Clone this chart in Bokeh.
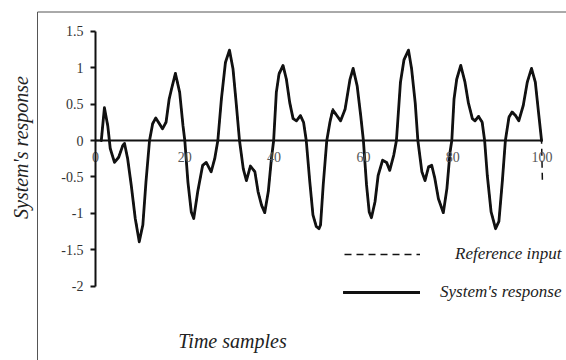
from bokeh.plotting import figure
from bokeh.models import Range1d, FixedTicker, Label, Legend, LegendItem
from bokeh.embed import file_html
from bokeh.resources import INLINE
import math

# ---------------- data ----------------
time_x = [1.3, 2.0, 2.75, 3.3, 4.25, 5.2, 6.1, 6.5, 7.2, 8.0, 8.9, 9.8, 10.6, 11.3,
          12.1, 12.8, 13.5, 14.3, 15.0, 15.8, 16.5, 17.0, 17.9, 18.85, 19.6, 20.0,
          20.7, 21.45, 22.0, 22.9, 24.0, 24.8, 25.9, 26.7, 27.4, 28.2, 29.1, 30.0,
          30.8, 31.5, 32.25, 33.1, 33.8, 34.7, 35.7, 36.4, 37.2, 37.9, 38.7, 39.4,
          39.9, 40.5, 41.1, 42.0, 42.75, 43.5, 44.25, 45.0, 45.9, 46.6, 47.2, 48.0,
          48.7, 49.45, 50.05, 50.4, 51.0, 51.8, 52.5, 53.1, 53.85, 54.9, 55.9, 57.0,
          57.7, 58.6, 59.4, 60.0, 60.7, 61.3, 61.8, 62.6, 63.3, 64.3, 65.2, 65.9,
          66.8, 67.4, 68.3, 69.1, 70.1, 70.8, 71.6, 72.2, 73.1, 73.8, 74.6, 75.3,
          76.0, 76.8, 77.9, 78.7, 79.4, 79.8, 80.3, 80.9, 81.8, 82.75, 83.5, 84.4,
          85.0, 85.8, 86.6, 87.15, 87.75, 88.6, 89.6, 90.35, 91.1, 91.8, 92.6, 93.3,
          94.1, 94.8, 95.8, 96.7, 97.65, 98.5, 99.3, 99.9]
system_response = [0.00, 0.45, 0.20, -0.11, -0.30, -0.23, -0.07, -0.04, -0.25, -0.61, -1.07, -1.39, -1.16, -0.57,
                   0.00, 0.23, 0.31, 0.23, 0.16, 0.25, 0.57, 0.70, 0.92, 0.66, 0.20, 0.00,
                   -0.57, -0.98, -1.07, -0.70, -0.34, -0.30, -0.43, -0.25, 0.00, 0.57, 1.07, 1.24,
                   0.98, 0.52, 0.00, -0.39, -0.55, -0.35, -0.43, -0.70, -0.89, -0.99, -0.70, -0.25,
                   0.00, 0.66, 0.91, 1.03, 0.84, 0.52, 0.30, 0.27, 0.34, 0.25, 0.00, -0.57,
                   -1.02, -1.18, -1.21, -1.16, -0.61, 0.00, 0.25, 0.41, 0.36, 0.27, 0.43, 0.84,
                   0.99, 0.75, 0.34, 0.00, -0.61, -0.98, -1.06, -0.84, -0.48, -0.27, -0.30, -0.41,
                   -0.20, 0.00, 0.80, 1.11, 1.24, 0.98, 0.52, 0.00, -0.43, -0.55, -0.36, -0.34,
                   -0.52, -0.80, -0.99, -0.66, -0.16, 0.00, 0.57, 0.84, 1.03, 0.80, 0.52, 0.30,
                   0.27, 0.33, 0.25, 0.00, -0.48, -0.98, -1.21, -1.11, -0.57, 0.00, 0.32, 0.39,
                   0.34, 0.27, 0.48, 0.80, 0.99, 0.80, 0.34, 0.00]

ref_x = [0.0, 1.2, 2.0, 2.75, 3.3, 4.25, 5.2, 6.1, 6.5, 7.2, 8.0, 8.9, 9.8, 10.6, 11.3,
         12.1, 12.8, 13.5, 14.3, 15.0, 15.8, 16.5, 17.0, 17.9, 18.85, 19.6, 20.0,
         20.7, 21.45, 22.0, 22.9, 24.0, 24.8, 25.9, 26.7, 27.4, 28.2, 29.1, 30.0,
         30.8, 31.5, 32.25, 33.1, 33.8, 34.7, 35.7, 36.4, 37.2, 37.9, 38.7, 39.4,
         39.9, 40.5, 41.1, 42.0, 42.75, 43.5, 44.25, 45.0, 45.9, 46.6, 47.2, 48.0,
         48.7, 49.45, 50.05, 50.4, 51.0, 51.8, 52.5, 53.1, 53.85, 54.9, 55.9, 57.0,
         57.7, 58.6, 59.4, 60.0, 60.7, 61.3, 61.8, 62.6, 63.3, 64.3, 65.2, 65.9,
         66.8, 67.4, 68.3, 69.1, 70.1, 70.8, 71.6, 72.2, 73.1, 73.8, 74.6, 75.3,
         76.0, 76.8, 77.9, 78.7, 79.4, 79.8, 80.3, 80.9, 81.8, 82.75, 83.5, 84.4,
         85.0, 85.8, 86.6, 87.15, 87.75, 88.6, 89.6, 90.35, 91.1, 91.8, 92.6, 93.3,
         94.1, 94.8, 95.8, 96.7, 97.65, 98.5, 99.3, 99.9, 100.1]
reference_input = [0.00, 0.00, 0.43, 0.22, -0.10, -0.29, -0.22, -0.06, -0.04, -0.24, -0.60, -1.05, -1.36, -1.15, -0.57,
                   0.00, 0.24, 0.30, 0.24, 0.17, 0.26, 0.56, 0.70, 0.93, 0.67, 0.21, 0.00,
                   -0.56, -0.97, -1.07, -0.71, -0.35, -0.31, -0.42, -0.24, 0.00, 0.56, 1.06, 1.23,
                   0.99, 0.53, 0.00, -0.38, -0.54, -0.34, -0.42, -0.69, -0.88, -0.98, -0.71, -0.26,
                   0.00, 0.65, 0.93, 1.02, 0.85, 0.53, 0.31, 0.28, 0.35, 0.26, 0.00, -0.56,
                   -1.01, -1.17, -1.20, -1.15, -0.62, 0.00, 0.26, 0.44, 0.37, 0.28, 0.44, 0.83,
                   0.98, 0.76, 0.35, 0.00, -0.60, -0.97, -1.05, -0.85, -0.49, -0.28, -0.31, -0.40,
                   -0.21, 0.00, 0.79, 1.10, 1.23, 0.99, 0.53, 0.00, -0.42, -0.54, -0.37, -0.35,
                   -0.51, -0.79, -0.98, -0.67, -0.17, 0.00, 0.56, 0.85, 1.02, 0.81, 0.53, 0.31,
                   0.28, 0.34, 0.26, 0.00, -0.47, -0.97, -1.20, -1.10, -0.58, 0.00, 0.33, 0.40,
                   0.35, 0.28, 0.47, 0.79, 0.98, 0.81, 0.35, 0.00, -0.58]

x_ticks = [0, 20, 40, 60, 80, 100]
x_tick_labels = ["0", "20", "40", "60", "80", "100"]
y_ticks = [-2, -1.5, -1, -0.5, 0, 0.5, 1, 1.5]
y_tick_labels = ["-2", "-1.5", "-1", "-0.5", "0", "0.5", "1", "1.5"]

x_label = "Time samples"
y_label = "System's response"
series_names = ["Reference input", "System's response"]

# ---------------- layout constants (screen geometry) ----------------
W, H = 566, 360
PX0, PXU = 95.0, 4.465      # px of x=0 and px per x unit
PY0, PYU = 140.0, 72.9      # px of y=0 and px per y unit
SERIF = "Liberation Serif"

p = figure(width=W, height=H, output_backend="svg", toolbar_location=None,
           x_range=Range1d(-PX0 / PXU, (W - PX0) / PXU),
           y_range=Range1d(-(H - PY0) / PYU, PY0 / PYU),
           min_border=0, min_border_left=0, min_border_right=0,
           min_border_top=0, min_border_bottom=0)
p.outline_line_color = None
p.xgrid.visible = False
p.ygrid.visible = False
p.background_fill_color = "white"
p.border_fill_color = "white"

# outer box (only left and top edges are visible in the crop)
bx = (37 - PX0) / PXU
by = (PY0 - 11.5) / PYU
p.segment(x0=[bx, bx], y0=[by, by], x1=[bx, 200], y1=[-10, by],
          line_color="#555555", line_width=1)

# series
ref_r = p.line(ref_x, reference_input, line_color="#111111", line_width=1.5, line_dash="7 5")
sys_r = p.line(time_x, system_response, line_color="#111111", line_width=2.8,
               line_join="round", line_cap="round")

# axes
xa = p.xaxis[0]
xa.fixed_location = 0
xa.bounds = (0, 100)
xa.ticker = FixedTicker(ticks=x_ticks)
xa.major_label_overrides = dict(zip(x_ticks, x_tick_labels))
xa.major_tick_out = 0
xa.major_tick_in = 0
xa.minor_tick_out = 0
xa.minor_tick_in = 0
xa.axis_line_width = 2
xa.axis_line_color = "#111111"
xa.major_label_standoff = 11
xa.major_label_text_font = SERIF
xa.major_label_text_font_size = "14px"
xa.major_label_text_color = "#555555"

ya = p.yaxis[0]
ya.fixed_location = 0
ya.bounds = (-2, 1.5)
ya.ticker = FixedTicker(ticks=y_ticks)
ya.major_label_overrides = dict(zip(y_ticks, y_tick_labels))
ya.major_tick_out = 5
ya.major_tick_in = 0
ya.minor_tick_out = 0
ya.minor_tick_in = 0
ya.major_tick_line_width = 2
ya.axis_line_width = 2
ya.axis_line_color = "#111111"
ya.major_tick_line_color = "#111111"
ya.major_label_standoff = 7
ya.major_label_text_font = SERIF
ya.major_label_text_font_size = "14px"
ya.major_label_text_color = "#333333"

# axis titles
p.add_layout(Label(x=20, y=H - 147, x_units="screen", y_units="screen",
                   text=y_label, angle=math.pi / 2, text_align="center",
                   text_baseline="alphabetic", text_font=SERIF,
                   text_font_style="italic", text_font_size="20px",
                   text_color="#222222"))
p.add_layout(Label(x=232, y=H - 340, x_units="screen", y_units="screen",
                   text=x_label, text_align="center", text_baseline="alphabetic",
                   text_font=SERIF, text_font_style="italic",
                   text_font_size="20px", text_color="#222222"))

# legends (two entries with different label offsets, as in the picture)
def make_legend(renderer, name, left, center_y, glyph_w, standoff):
    lg = Legend(items=[LegendItem(label=name, renderers=[renderer])],
                location=(left, H - center_y - 10),
                glyph_width=glyph_w, glyph_height=20, label_height=20,
                label_standoff=standoff, padding=0, margin=0, spacing=0,
                background_fill_alpha=0, border_line_color=None,
                label_text_font=SERIF, label_text_font_style="italic",
                label_text_font_size="17px", label_text_color="#222222")
    p.add_layout(lg, "center")

make_legend(ref_r, series_names[0], 344, 254, 76, 35)
make_legend(sys_r, series_names[1], 343, 292, 77, 20)

open("out.html", "w").write(file_html(p, INLINE))
